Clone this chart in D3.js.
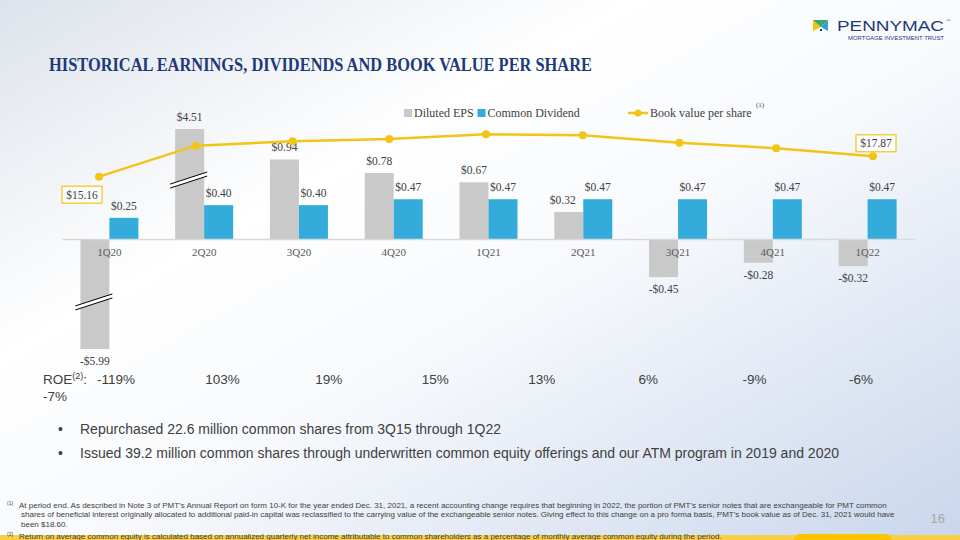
<!DOCTYPE html>
<html>
<head>
<meta charset="utf-8">
<script src="https://cdn.jsdelivr.net/npm/d3@7"></script>
<style>
  body { margin: 0; }
  svg { display: block; }
</style>
</head>
<body>
<svg id="container" width="960" height="540"></svg>
<script>
const quarters = ['1Q20', '2Q20', '3Q20', '4Q20', '1Q21', '2Q21', '3Q21', '4Q21', '1Q22']
const dilutedEps = [-5.99, 4.51, 0.94, 0.78, 0.67, 0.32, -0.45, -0.28, -0.32]
const commonDividend = [0.25, 0.4, 0.4, 0.47, 0.47, 0.47, 0.47, 0.47, 0.47]
const bookValue = [15.16, 19.28, 19.86, 20.17, 20.79, 20.66, 19.68, 18.93, 17.87]
const roeLabels = ['-119%', '103%', '19%', '15%', '13%', '6%', '-9%', '-6%']
const roeWrapped = '-7%'
const seriesNames = ['Diluted EPS', 'Common Dividend', 'Book value per share']

const bullets = [
  'Repurchased 22.6 million common shares from 3Q15 through 1Q22',
  'Issued 39.2 million common shares through underwritten common equity offerings and our ATM program in 2019 and 2020',
]
const footnote1 = [
  "At period end. As described in Note 3 of PMT’s Annual Report on form 10-K for the year ended Dec. 31, 2021, a recent accounting change requires that beginning in 2022, the portion of PMT’s senior notes that are exchangeable for PMT common",
  "shares of beneficial interest originally allocated to additional paid-in capital was reclassified to the carrying value of the exchangeable senior notes. Giving effect to this change on a pro forma basis, PMT’s book value as of Dec. 31, 2021 would have",
  'been $18.60.',
]
const footnote2 =
  'Return on average common equity is calculated based on annualized quarterly net income attributable to common shareholders as a percentage of monthly average common equity during the period.'

const colors = { eps: '#c9c9c9', div: '#33acdc', book: '#f2c515', navy: '#1d3a7a', text: '#404040' }
const serif = "'Liberation Serif', 'DejaVu Serif', serif"
const sans = "'Liberation Sans', Arial, sans-serif"

const svg = d3.select('#container')

// background
const defs = svg.append('defs')
const bg = defs
  .append('linearGradient')
  .attr('id', 'bg')
  .attr('x1', 0)
  .attr('y1', 0)
  .attr('x2', 1)
  .attr('y2', 1)
bg.append('stop').attr('offset', 0).attr('stop-color', '#dde3eb')
bg.append('stop').attr('offset', 0.33).attr('stop-color', '#ffffff')
bg.append('stop').attr('offset', 0.55).attr('stop-color', '#f7f9fc')
bg.append('stop').attr('offset', 1).attr('stop-color', '#c9d6ec')
svg.append('rect').attr('width', 960).attr('height', 540).attr('fill', 'url(#bg)')

// title
svg
  .append('text')
  .attr('x', 49)
  .attr('y', 71)
  .attr('font-family', serif)
  .attr('font-weight', 'bold')
  .attr('font-size', 18.5)
  .attr('fill', colors.navy)
  .attr('textLength', 543)
  .attr('lengthAdjust', 'spacingAndGlyphs')
  .text('HISTORICAL EARNINGS, DIVIDENDS AND BOOK VALUE PER SHARE')

// logo
const logo = svg.append('g')
logo.append('polygon').attr('points', '813,20 821,27 813,31').attr('fill', '#f5c400')
logo.append('polygon').attr('points', '813,20 828,20 821,27').attr('fill', '#3aa66b')
logo.append('polygon').attr('points', '828,20 828,31 821,27').attr('fill', '#2f9fd8')
logo.append('polygon').attr('points', '817,31 821,27 825,31').attr('fill', '#ffffff')
logo.append('rect').attr('x', 820).attr('y', 29).attr('width', 2).attr('height', 2).attr('fill', colors.navy)
logo
  .append('text')
  .attr('x', 837)
  .attr('y', 31)
  .attr('font-family', sans)
  .attr('font-size', 15)
  .attr('fill', colors.navy)
  .attr('textLength', 107)
  .attr('lengthAdjust', 'spacingAndGlyphs')
  .text('PENNYMAC')
logo
  .append('text')
  .attr('x', 946)
  .attr('y', 22)
  .attr('font-family', sans)
  .attr('font-size', 4)
  .attr('fill', colors.navy)
  .text('™')
logo
  .append('text')
  .attr('x', 848)
  .attr('y', 40)
  .attr('font-family', sans)
  .attr('font-size', 5.5)
  .attr('fill', colors.navy)
  .attr('textLength', 96)
  .attr('lengthAdjust', 'spacingAndGlyphs')
  .text('MORTGAGE INVESTMENT TRUST')

// scales
const x0 = d3.scaleBand().domain(quarters).range([62, 915]).paddingInner(0.388).paddingOuter(0.194)
const x1 = d3.scaleBand().domain(['eps', 'div']).range([0, x0.bandwidth()])
// bars beyond +-1.3 are drawn broken
const cap = 1.3
const y = d3.scaleLinear().domain([-cap, cap]).range([349, 129]).clamp(true)
const xLine = d3.scalePoint().domain(quarters).range([99, 873])
const yLine = d3.scaleLinear().domain([0, 25]).range([290.8, 102.6])

const fmt = (v) => (v < 0 ? `-$${Math.abs(v).toFixed(2)}` : `$${v.toFixed(2)}`)

const rows = quarters.map((q, i) => ({ q, eps: dilutedEps[i], div: commonDividend[i], book: bookValue[i] }))

const chart = svg.append('g')

// bars
const groups = chart
  .selectAll('g.q')
  .data(rows)
  .enter()
  .append('g')
  .attr('class', 'q')
  .attr('transform', (d) => `translate(${x0(d.q)},0)`)

groups
  .append('rect')
  .attr('x', x1('eps'))
  .attr('width', x1.bandwidth())
  .attr('y', (d) => Math.min(y(d.eps), y(0)))
  .attr('height', (d) => Math.abs(y(d.eps) - y(0)))
  .attr('fill', colors.eps)

groups
  .append('rect')
  .attr('x', x1('div'))
  .attr('width', x1.bandwidth())
  .attr('y', (d) => y(d.div))
  .attr('height', (d) => y(0) - y(d.div))
  .attr('fill', colors.div)

// break marks on the clipped bars
groups
  .filter((d) => Math.abs(d.eps) > cap)
  .each(function (d) {
    const yb = y(Math.sign(d.eps) * 0.72)
    const l = x1('eps') - 5
    const r = x1('eps') + x1.bandwidth() + 3
    const g = d3.select(this)
    g.append('polygon')
      .attr('points', `${l},${yb + 6} ${r},${yb - 6} ${r},${yb - 2} ${l},${yb + 10}`)
      .attr('fill', '#ffffff')
    g.append('line').attr('x1', l).attr('y1', yb + 6).attr('x2', r).attr('y2', yb - 6)
    g.append('line').attr('x1', l).attr('y1', yb + 10).attr('x2', r).attr('y2', yb - 2)
    g.selectAll('line').attr('stroke', '#000').attr('stroke-width', 1)
  })

// bar labels
const labelStyle = (sel) =>
  sel.attr('font-family', serif).attr('font-size', 11.5).attr('fill', colors.text).attr('text-anchor', 'middle')

groups
  .append('text')
  .call(labelStyle)
  .attr('x', x1('eps') + x1.bandwidth() / 2)
  .attr('y', (d) => (d.eps < 0 ? y(d.eps) + 16 : y(d.eps) - 8))
  .attr('dx', (d) => (d.q === '2Q21' ? -6 : 0))
  .text((d) => fmt(d.eps))

groups
  .append('text')
  .call(labelStyle)
  .attr('x', x1('div') + x1.bandwidth() / 2)
  .attr('y', (d) => y(d.div) - 8)
  .text((d) => fmt(d.div))

// category axis
const axis = chart
  .append('g')
  .attr('transform', `translate(0,${y(0)})`)
  .call(d3.axisBottom(x0).tickSize(0).tickPadding(9))
axis.select('.domain').attr('stroke', '#d9d9d9').attr('stroke-width', 1.5)
axis.selectAll('text').attr('font-family', serif).attr('font-size', 11).attr('fill', '#595959')

// book value line
const line = d3
  .line()
  .x((d) => xLine(d.q))
  .y((d) => yLine(d.book))
chart
  .append('path')
  .datum(rows)
  .attr('d', line)
  .attr('fill', 'none')
  .attr('stroke', colors.book)
  .attr('stroke-width', 2.5)
chart
  .selectAll('circle.pt')
  .data(rows)
  .enter()
  .append('circle')
  .attr('class', 'pt')
  .attr('cx', (d) => xLine(d.q))
  .attr('cy', (d) => yLine(d.book))
  .attr('r', 4)
  .attr('fill', colors.book)

// boxed labels on first and last book value
const ends = [
  { d: rows[0], dx: -17, dy: 18 },
  { d: rows[rows.length - 1], dx: 3, dy: -13 },
]
ends.forEach(({ d, dx, dy }) => {
  const cx = xLine(d.q) + dx
  const cy = yLine(d.book) + dy
  chart
    .append('rect')
    .attr('x', cx - 20)
    .attr('y', cy - 8.5)
    .attr('width', 40)
    .attr('height', 17)
    .attr('fill', '#ffffff')
    .attr('fill-opacity', 0.8)
    .attr('stroke', colors.book)
    .attr('stroke-width', 1.2)
  chart
    .append('text')
    .call(labelStyle)
    .attr('x', cx)
    .attr('y', cy + 4)
    .text(fmt(d.book))
})

// legend
const legend = svg.append('g').attr('font-family', serif).attr('font-size', 12).attr('fill', colors.text)
legend.append('rect').attr('x', 404).attr('y', 109).attr('width', 8).attr('height', 8).attr('fill', colors.eps)
legend.append('text').attr('x', 414).attr('y', 116.5).text(seriesNames[0])
legend.append('rect').attr('x', 477.5).attr('y', 109).attr('width', 8).attr('height', 8).attr('fill', colors.div)
legend.append('text').attr('x', 487.5).attr('y', 116.5).text(seriesNames[1])
legend
  .append('line')
  .attr('x1', 628)
  .attr('x2', 648)
  .attr('y1', 113)
  .attr('y2', 113)
  .attr('stroke', colors.book)
  .attr('stroke-width', 2.5)
legend.append('circle').attr('cx', 638).attr('cy', 113).attr('r', 3.5).attr('fill', colors.book)
legend.append('text').attr('x', 650).attr('y', 116.5).text(seriesNames[2])
legend.append('text').attr('x', 756).attr('y', 107).attr('font-size', 7).text('(1)')

// ROE row
const roe = svg.append('g').attr('font-family', sans).attr('font-size', 13.5).attr('fill', colors.text)
const roeTitle = roe.append('text').attr('x', 43).attr('y', 384)
roeTitle.append('tspan').text('ROE')
roeTitle.append('tspan').attr('font-size', 9).attr('dy', -5).text('(2)')
roeTitle.append('tspan').attr('dy', 5).text(':')
const xRoe = d3.scalePoint().domain(roeLabels.map((d, i) => i)).range([116, 861])
roe
  .selectAll('text.roe')
  .data(roeLabels)
  .enter()
  .append('text')
  .attr('class', 'roe')
  .attr('x', (d, i) => xRoe(i))
  .attr('y', 384)
  .attr('text-anchor', 'middle')
  .text((d) => d)
roe.append('text').attr('x', 43).attr('y', 400.5).text(roeWrapped)

// bullets
const bl = svg.append('g').attr('font-family', sans).attr('font-size', 14).attr('fill', colors.text)
bullets.forEach((t, i) => {
  bl.append('text').attr('x', 58).attr('y', 434 + i * 24).text('•')
  bl.append('text').attr('x', 80).attr('y', 434 + i * 24).text(t)
})

// bottom band
svg.append('rect').attr('x', 0).attr('y', 535).attr('width', 960).attr('height', 5).attr('fill', '#f8cf45')
svg.append('polygon').attr('points', '793,540 798,534 888,534 893,540').attr('fill', '#ffc400')

// footnotes
const fn = svg.append('g').attr('font-family', sans).attr('font-size', 8).attr('fill', colors.text)
fn.append('text').attr('x', 7).attr('y', 505).attr('font-size', 5).text('(1)')
footnote1.forEach((t, i) => {
  fn.append('text')
    .attr('x', i === 0 ? 19 : 21)
    .attr('y', 507.5 + i * 9.7)
    .text(t)
})
fn.append('text').attr('x', 7).attr('y', 536).attr('font-size', 5).text('(2)')
fn.append('text').attr('x', 19).attr('y', 538.5).text(footnote2)

svg
  .append('text')
  .attr('x', 945)
  .attr('y', 523)
  .attr('text-anchor', 'end')
  .attr('font-family', sans)
  .attr('font-size', 13)
  .attr('fill', '#a6a6a6')
  .text('16')
</script>
</body>
</html>
